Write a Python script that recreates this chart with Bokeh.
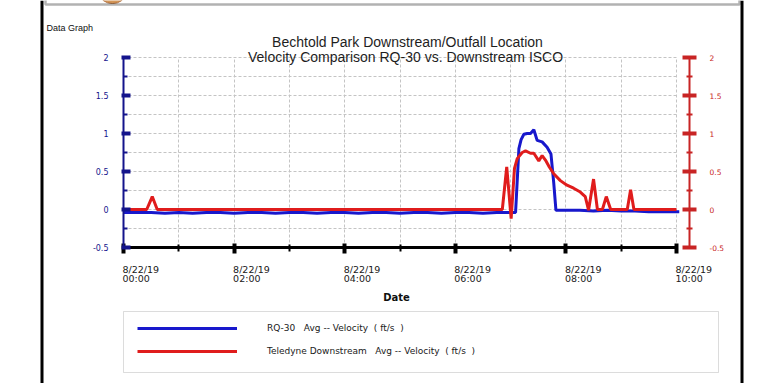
from bokeh.plotting import figure
from bokeh.models import (LinearAxis, FixedTicker, NumeralTickFormatter, CustomJSTickFormatter,
                          Label, BoxAnnotation, Legend, LegendItem, SingleIntervalTicker,
                          Range1d, Grid)
from bokeh.embed import file_html
from bokeh.resources import INLINE

# ---------------- data (hours since 8/22/19 00:00, velocity ft/s) ----------------
rq30_hours = [0.0, 0.25, 0.5, 0.75, 1.0, 1.25, 1.5, 1.75, 2.0, 2.25, 2.5, 2.75, 3.0,
              3.25, 3.5, 3.75, 4.0, 4.25, 4.5, 4.75, 5.0, 5.25, 5.5, 5.75, 6.0, 6.25,
              6.5, 6.75, 7.0, 7.09, 7.15, 7.19, 7.24, 7.30, 7.36, 7.42, 7.48, 7.57,
              7.66, 7.73, 7.78, 7.82, 8.0, 8.25, 8.5, 8.75, 9.0, 9.25, 9.5, 9.75, 10.05]
rq30_vel = [-0.04, -0.04, -0.04, -0.05, -0.04, -0.05, -0.04, -0.04, -0.05, -0.04, -0.04,
            -0.05, -0.04, -0.04, -0.05, -0.04, -0.04, -0.05, -0.04, -0.04, -0.05, -0.04,
            -0.04, -0.05, -0.04, -0.04, -0.05, -0.04, -0.04, -0.04, 0.80, 0.92, 0.99,
            1.00, 1.00, 1.05, 0.91, 0.89, 0.82, 0.73, 0.35, -0.01, -0.01, -0.01, -0.02,
            -0.01, -0.02, -0.02, -0.03, -0.03, -0.03]

tel_hours = [0.0, 0.42, 0.52, 0.61, 6.85, 6.93, 7.01, 7.07, 7.12, 7.21, 7.27, 7.36,
             7.42, 7.51, 7.57, 7.63, 7.70, 7.78, 7.90, 8.02, 8.14, 8.26, 8.35, 8.41,
             8.50, 8.57, 8.66, 8.73, 8.81, 9.11, 9.17, 9.23, 10.0]
tel_vel = [0.0, 0.0, 0.17, 0.0, 0.0, 0.56, -0.12, 0.54, 0.67, 0.75, 0.77, 0.74, 0.74,
           0.64, 0.71, 0.65, 0.56, 0.47, 0.38, 0.32, 0.28, 0.23, 0.17, -0.01, 0.40,
           0.0, 0.0, 0.17, 0.0, 0.0, 0.26, 0.0, 0.0]

x_tick_hours = [0, 2, 4, 6, 8, 10]
x_tick_dates = ["8/22/19"] * 6
x_tick_times = ["00:00", "02:00", "04:00", "06:00", "08:00", "10:00"]
y_ticks = [-0.5, 0, 0.5, 1, 1.5, 2]
series_names = ["RQ-30   Avg -- Velocity  ( ft/s  )",
                "Teledyne Downstream   Avg -- Velocity  ( ft/s  )"]
title_lines = ["Bechtold Park Downstream/Outfall Location",
               "Velocity Comparison  RQ-30 vs. Downstream ISCO"]
page_label = "Data Graph"
x_label = "Date"

# ---------------- geometry ----------------
W, H = 782, 383
# data area placement on the page (pixels)
X0_PAGE, X_PER_HR = 123.0, 55.3     # 00:00 at x=123, 55.3 px per hour
Y0_PAGE, Y_PER_UNIT = 209.0, 76.0   # 0 ft/s at y=209, 76 px per ft/s


def hx(px):
    return (px - X0_PAGE) / X_PER_HR


def vy(py):
    return (Y0_PAGE - py) / Y_PER_UNIT


NAVY = "#14148c"
BLUE = "#1818cc"
RED = "#e01c1c"
DRED = "#c82424"
FONT = "Liberation Sans"
SFONT = "DejaVu Sans"

# default ranges = page pixels (y downward), so the frame is the whole canvas
p = figure(width=W, height=H, output_backend="svg", toolbar_location=None,
           x_range=Range1d(0, W), y_range=Range1d(H, 0),
           min_border=0, min_border_left=0, min_border_right=0, min_border_top=0,
           min_border_bottom=0, x_axis_location=None, y_axis_location=None)
p.outline_line_color = None
p.background_fill_color = "white"
p.border_fill_color = "white"
p.xgrid.visible = False
p.ygrid.visible = False

# data coordinate system (hours / ft/s), same frame
p.extra_x_ranges = {"hrs": Range1d(hx(0), hx(W))}
p.extra_y_ranges = {"vel": Range1d(vy(H), vy(0))}
X_END = hx(689)

# grids
p.add_layout(Grid(dimension=0, ticker=SingleIntervalTicker(interval=1),
                  x_range_name="hrs", y_range_name="vel",
                  bounds=(0, 10), cross_bounds=(y_ticks[0], y_ticks[-1]),
                  grid_line_color="#c4c4c4", grid_line_dash="3 2", grid_line_width=1))
p.add_layout(Grid(dimension=1, ticker=SingleIntervalTicker(interval=0.25),
                  x_range_name="hrs", y_range_name="vel",
                  bounds=(y_ticks[0], y_ticks[-1]), cross_bounds=(0, 10),
                  grid_line_color="#c4c4c4", grid_line_dash="3 2", grid_line_width=1))

minor_x = [h + 1 for h in x_tick_hours[:-1]]
minor_y = [t + 0.25 for t in y_ticks[:-1]]

xaxis = LinearAxis(ticker=FixedTicker(ticks=x_tick_hours, minor_ticks=minor_x),
                   x_range_name="hrs", y_range_name="vel", fixed_location=y_ticks[0],
                   formatter=CustomJSTickFormatter(code="return ''"),
                   bounds=(0, 10), axis_line_color="black", axis_line_width=3,
                   major_tick_line_color="black", major_tick_line_width=4,
                   major_tick_in=4, major_tick_out=6,
                   minor_tick_line_color="black", minor_tick_line_width=2,
                   minor_tick_in=3, minor_tick_out=4)
p.add_layout(xaxis, "below")

yaxis = LinearAxis(ticker=FixedTicker(ticks=y_ticks, minor_ticks=minor_y),
                   x_range_name="hrs", y_range_name="vel", fixed_location=0,
                   bounds=(y_ticks[0], y_ticks[-1]),
                   formatter=NumeralTickFormatter(format="0.[0]"),
                   axis_line_color=NAVY, axis_line_width=2,
                   major_tick_line_color=NAVY, major_tick_line_width=4,
                   major_tick_in=7, major_tick_out=2,
                   minor_tick_line_color=NAVY, minor_tick_line_width=2,
                   minor_tick_in=4, minor_tick_out=0,
                   major_label_text_font=SFONT, major_label_text_font_size="8px",
                   major_label_text_color=NAVY, major_label_standoff=13)
p.add_layout(yaxis, "left")

raxis = LinearAxis(ticker=FixedTicker(ticks=y_ticks, minor_ticks=minor_y),
                   x_range_name="hrs", y_range_name="vel", fixed_location=X_END,
                   bounds=(y_ticks[0], y_ticks[-1]),
                   formatter=NumeralTickFormatter(format="0.[0]"),
                   axis_line_color=DRED, axis_line_width=2,
                   major_tick_line_color=DRED, major_tick_line_width=4,
                   major_tick_in=7, major_tick_out=7,
                   minor_tick_line_color=DRED, minor_tick_line_width=2,
                   minor_tick_in=3, minor_tick_out=3,
                   major_label_text_font=SFONT, major_label_text_font_size="7.5px",
                   major_label_text_color=DRED, major_label_standoff=13)
p.add_layout(raxis, "right")

# data lines
r_rq = p.line(rq30_hours, rq30_vel, line_color=BLUE, line_width=3,
              x_range_name="hrs", y_range_name="vel")
r_tel = p.line(tel_hours, tel_vel, line_color=RED, line_width=3,
               x_range_name="hrs", y_range_name="vel")

# x tick labels (left aligned at each major tick)
for h, d, t in zip(x_tick_hours, x_tick_dates, x_tick_times):
    for txt, base in ((d, 269), (t, 278)):
        p.add_layout(Label(x=h, y=vy(base), x_range_name="hrs", y_range_name="vel",
                           text=txt, x_offset=-1, text_font=SFONT,
                           text_font_size="9.5px", text_color="#202020",
                           text_baseline="alphabetic"))

p.add_layout(Label(x=396, y=297, text=x_label, text_align="center",
                   text_font=SFONT, text_font_style="bold", text_font_size="10px",
                   text_color="#101010", text_baseline="alphabetic"))

# titles
p.add_layout(Label(x=407, y=41, text=title_lines[0], text_align="center",
                   text_font=FONT, text_font_size="14px", text_color="#1e1e1e",
                   text_baseline="alphabetic"))
p.add_layout(Label(x=407, y=56, text=title_lines[1], text_align="center",
                   text_font=FONT, text_font_size="14px", text_color="#1e1e1e",
                   text_baseline="alphabetic"))
p.add_layout(Label(x=46, y=27, text=page_label, text_font=FONT,
                   text_font_size="9px", text_color="#101010",
                   text_baseline="alphabetic"))

# page decoration: header box bottom, logo edge, side border bars
p.ellipse(x=[112], y=[-7], width=26, height=20, fill_color="#d39658",
          line_color="#b07040", line_width=1)
p.add_layout(BoxAnnotation(left=45, right=739, top=-10, bottom=4,
                           fill_color=None, fill_alpha=0, line_color="black",
                           line_width=2.5))
p.add_layout(BoxAnnotation(left=40, right=43, top=0, bottom=400,
                           fill_color="black", fill_alpha=1, line_color=None))
p.add_layout(BoxAnnotation(left=740, right=743, top=0, bottom=400,
                           fill_color="black", fill_alpha=1, line_color=None))

# legend frame
p.add_layout(BoxAnnotation(left=123, right=718, top=311, bottom=372,
                           fill_color=None, fill_alpha=0, line_color="#8c8c8c",
                           line_width=1))

legend = Legend(items=[LegendItem(label=series_names[0], renderers=[r_rq]),
                       LegendItem(label=series_names[1], renderers=[r_tel])],
                location=(137, 22), glyph_width=100, glyph_height=20,
                label_height=20, spacing=3, padding=7, margin=0,
                label_standoff=30, label_text_font=SFONT,
                label_text_font_size="9px", label_text_color="#202020",
                border_line_color=None, background_fill_alpha=0)
p.add_layout(legend)

open("out.html", "w").write(file_html(p, INLINE))
